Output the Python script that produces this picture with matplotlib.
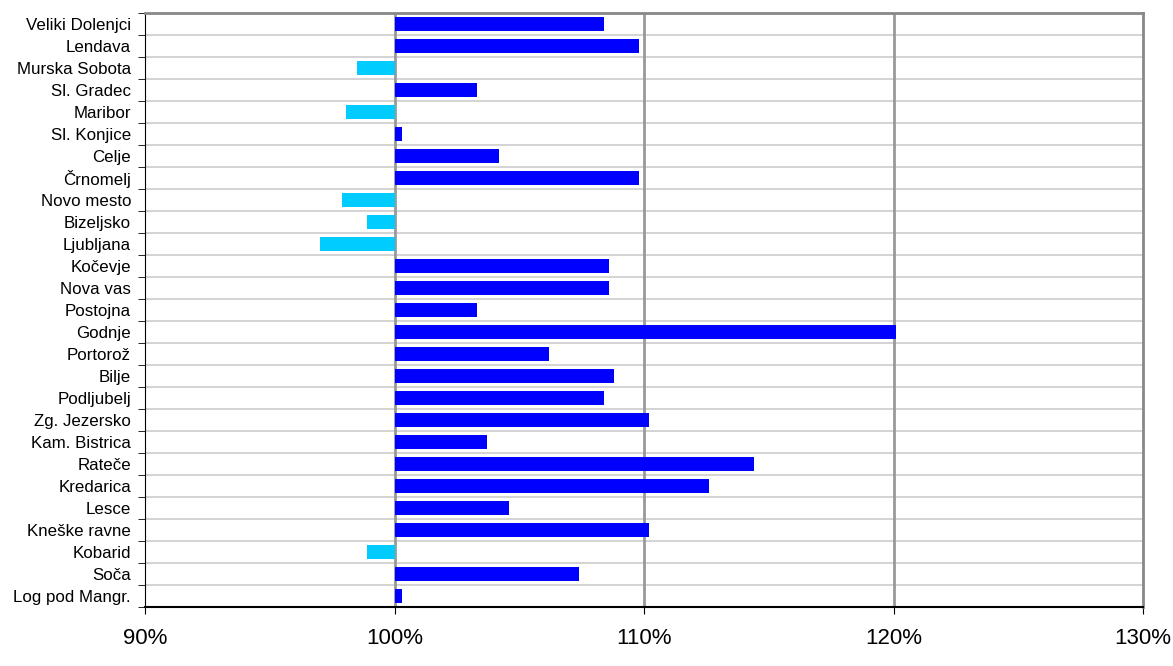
import matplotlib
matplotlib.use("Agg")
import matplotlib.pyplot as plt
import numpy as np

stations = ["Veliki Dolenjci", "Lendava", "Murska Sobota", "Sl. Gradec", "Maribor",
            "Sl. Konjice", "Celje", "Črnomelj", "Novo mesto", "Bizeljsko", "Ljubljana",
            "Kočevje", "Nova vas", "Postojna", "Godnje", "Portorož", "Bilje",
            "Podljubelj", "Zg. Jezersko", "Kam. Bistrica", "Rateče", "Kredarica",
            "Lesce", "Kneške ravne", "Kobarid", "Soča", "Log pod Mangr."]
values = [108.4, 109.8, 98.5, 103.3, 98.05, 100.3, 104.2, 109.8, 97.9, 98.9, 97.0,
          108.6, 108.6, 103.3, 120.1, 106.2, 108.8, 108.4, 110.2, 103.7, 114.4,
          112.6, 104.6, 110.2, 98.9, 107.4, 100.3]
xticks = [90, 100, 110, 120, 130]
xticklabels = ["90%", "100%", "110%", "120%", "130%"]

plt.rcParams['font.family'] = ['Liberation Sans', 'DejaVu Sans']
fig = plt.figure(figsize=(11.73, 6.66), dpi=100)
ax = fig.add_axes([145/1173, 59/666, (1143-145)/1173, (607-13)/666])

n = len(stations)
y = np.arange(n)
vals = np.array(values)
colors = ['#0000FF' if v >= 100 else '#00CCFF' for v in vals]
ax.barh(y, vals - 100, left=100, height=0.68, color=colors, zorder=3)

ax.set_xlim(90, 130)
ax.set_ylim(n - 0.5, -0.5)
ax.set_xticks(xticks)
ax.set_xticklabels(xticklabels, fontsize=16)
ax.set_yticks(y)
ax.set_yticklabels(stations, fontsize=12.2)
ax.set_yticks(np.arange(-0.5, n, 1), minor=True)
ax.tick_params(axis='y', which='major', length=0, pad=10)
ax.tick_params(axis='y', which='minor', length=5, direction='out', color='black')
ax.tick_params(axis='x', which='major', length=5, direction='out', pad=10)

ax.grid(axis='y', which='minor', color='#CCCCCC', linewidth=1.2, zorder=1)
for xv in [100, 110, 120]:
    ax.axvline(xv, color='#999999', linewidth=2, zorder=2)

for s in ['top', 'right']:
    ax.spines[s].set_color('#888888')
    ax.spines[s].set_linewidth(2)
ax.spines['left'].set_color('black')
ax.spines['bottom'].set_color('black')
ax.spines['bottom'].set_linewidth(1.5)

fig.savefig("out.png", dpi=100)
